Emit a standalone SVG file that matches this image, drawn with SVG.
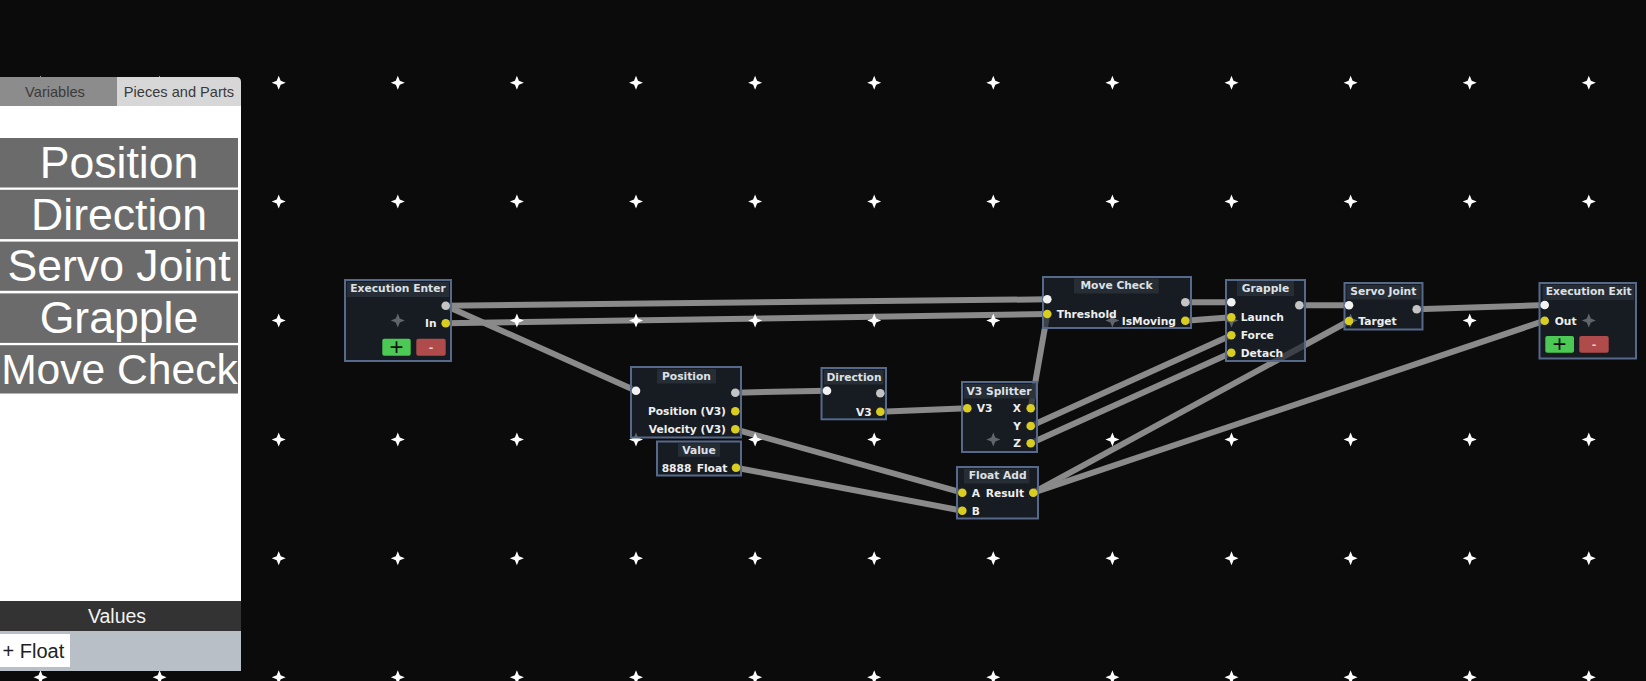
<svg xmlns="http://www.w3.org/2000/svg" xmlns:xlink="http://www.w3.org/1999/xlink" width="1646" height="681" viewBox="0 0 1646 681">
<defs>
<path id="gx" d="M0,-7 L2,-2 L7,0 L2,2 L0,7 L-2,2 L-7,0 L-2,-2 Z"/>
</defs>
<style>
.gx{fill:#ffffff}
.nb{fill:#1c232c;fill-opacity:.7;stroke:#56698a;stroke-width:2}
.tp{fill:#2a3038;fill-opacity:.85}
.tt{font-family:"DejaVu Sans",sans-serif;font-weight:bold;font-size:10.7px;fill:#dde1e6;text-anchor:middle}
.pl{font-family:"DejaVu Sans",sans-serif;font-weight:bold;font-size:10.7px;fill:#eeeeee}
.r{text-anchor:end}
.pw{fill:#f2f2f2}
.pwo{fill:#c4c4c4}
.py{fill:#dacd22}
.wire{stroke:#8a8a8a;stroke-width:6;fill:none;stroke-linecap:butt}
.btg{fill:#4cc955}
.btr{fill:#b04b4b}
.item{fill:#6b6b6b}
.itxt{font-family:"Liberation Sans",Arial,sans-serif;font-size:44.6px;fill:#ffffff;text-anchor:middle}
.tab{font-family:"Liberation Sans",Arial,sans-serif;font-size:14.6px;fill:#3a3a3a;text-anchor:middle}
</style>
<rect x="0" y="0" width="1646" height="681" fill="#0b0b0b"/>

<g id="connectors">
<line class="wire" x1="445.7" y1="305.7" x2="1047.3" y2="299.3"/>
<line class="wire" x1="445.7" y1="305.7" x2="636" y2="390.7"/>
<line class="wire" x1="445.7" y1="323.3" x2="1047.3" y2="314"/>
<line class="wire" x1="735.3" y1="392.7" x2="827" y2="390.7"/>
<line class="wire" x1="880.3" y1="411.7" x2="967.3" y2="408.3"/>
<line class="wire" x1="735.3" y1="429.3" x2="962.3" y2="492.7"/>
<line class="wire" x1="736" y1="467.7" x2="962.3" y2="510.7"/>
<line class="wire" x1="1030.7" y1="408.3" x2="1047.3" y2="314"/>
<line class="wire" x1="1030.7" y1="426" x2="1231.3" y2="335.3"/>
<line class="wire" x1="1030.7" y1="443.3" x2="1231.3" y2="352.7"/>
<line class="wire" x1="1185.3" y1="302.3" x2="1231.3" y2="302.3"/>
<line class="wire" x1="1185.3" y1="320.7" x2="1231.3" y2="317.3"/>
<line class="wire" x1="1299.3" y1="305.3" x2="1349" y2="305.3"/>
<line class="wire" x1="1033.3" y1="492.7" x2="1349" y2="321"/>
<line class="wire" x1="1033.3" y1="492.7" x2="1544.7" y2="320.7"/>
<line class="wire" x1="1416.7" y1="309.3" x2="1544.7" y2="305"/>
</g>

<g id="grid" class="gx">
<use href="#gx" x="40.5" y="82.7"/><use href="#gx" x="159.6" y="82.7"/><use href="#gx" x="278.7" y="82.7"/><use href="#gx" x="397.8" y="82.7"/><use href="#gx" x="516.9" y="82.7"/><use href="#gx" x="636" y="82.7"/><use href="#gx" x="755.1" y="82.7"/><use href="#gx" x="874.2" y="82.7"/><use href="#gx" x="993.3" y="82.7"/><use href="#gx" x="1112.4" y="82.7"/><use href="#gx" x="1231.5" y="82.7"/><use href="#gx" x="1350.6" y="82.7"/><use href="#gx" x="1469.7" y="82.7"/><use href="#gx" x="1588.8" y="82.7"/>
<use href="#gx" x="40.5" y="201.6"/><use href="#gx" x="159.6" y="201.6"/><use href="#gx" x="278.7" y="201.6"/><use href="#gx" x="397.8" y="201.6"/><use href="#gx" x="516.9" y="201.6"/><use href="#gx" x="636" y="201.6"/><use href="#gx" x="755.1" y="201.6"/><use href="#gx" x="874.2" y="201.6"/><use href="#gx" x="993.3" y="201.6"/><use href="#gx" x="1112.4" y="201.6"/><use href="#gx" x="1231.5" y="201.6"/><use href="#gx" x="1350.6" y="201.6"/><use href="#gx" x="1469.7" y="201.6"/><use href="#gx" x="1588.8" y="201.6"/>
<use href="#gx" x="40.5" y="320.5"/><use href="#gx" x="159.6" y="320.5"/><use href="#gx" x="278.7" y="320.5"/><use href="#gx" x="397.8" y="320.5"/><use href="#gx" x="516.9" y="320.5"/><use href="#gx" x="636" y="320.5"/><use href="#gx" x="755.1" y="320.5"/><use href="#gx" x="874.2" y="320.5"/><use href="#gx" x="993.3" y="320.5"/><use href="#gx" x="1112.4" y="320.5"/><use href="#gx" x="1231.5" y="320.5"/><use href="#gx" x="1350.6" y="320.5"/><use href="#gx" x="1469.7" y="320.5"/><use href="#gx" x="1588.8" y="320.5"/>
<use href="#gx" x="40.5" y="439.4"/><use href="#gx" x="159.6" y="439.4"/><use href="#gx" x="278.7" y="439.4"/><use href="#gx" x="397.8" y="439.4"/><use href="#gx" x="516.9" y="439.4"/><use href="#gx" x="636" y="439.4"/><use href="#gx" x="755.1" y="439.4"/><use href="#gx" x="874.2" y="439.4"/><use href="#gx" x="993.3" y="439.4"/><use href="#gx" x="1112.4" y="439.4"/><use href="#gx" x="1231.5" y="439.4"/><use href="#gx" x="1350.6" y="439.4"/><use href="#gx" x="1469.7" y="439.4"/><use href="#gx" x="1588.8" y="439.4"/>
<use href="#gx" x="40.5" y="558.3"/><use href="#gx" x="159.6" y="558.3"/><use href="#gx" x="278.7" y="558.3"/><use href="#gx" x="397.8" y="558.3"/><use href="#gx" x="516.9" y="558.3"/><use href="#gx" x="636" y="558.3"/><use href="#gx" x="755.1" y="558.3"/><use href="#gx" x="874.2" y="558.3"/><use href="#gx" x="993.3" y="558.3"/><use href="#gx" x="1112.4" y="558.3"/><use href="#gx" x="1231.5" y="558.3"/><use href="#gx" x="1350.6" y="558.3"/><use href="#gx" x="1469.7" y="558.3"/><use href="#gx" x="1588.8" y="558.3"/>
<use href="#gx" x="40.5" y="677.2"/><use href="#gx" x="159.6" y="677.2"/><use href="#gx" x="278.7" y="677.2"/><use href="#gx" x="397.8" y="677.2"/><use href="#gx" x="516.9" y="677.2"/><use href="#gx" x="636" y="677.2"/><use href="#gx" x="755.1" y="677.2"/><use href="#gx" x="874.2" y="677.2"/><use href="#gx" x="993.3" y="677.2"/><use href="#gx" x="1112.4" y="677.2"/><use href="#gx" x="1231.5" y="677.2"/><use href="#gx" x="1350.6" y="677.2"/><use href="#gx" x="1469.7" y="677.2"/><use href="#gx" x="1588.8" y="677.2"/>
</g>

<g id="execution-enter">
<rect class="nb" x="345" y="280" width="106" height="81"/>
<rect class="tp" x="347" y="282" width="102" height="15"/>
<text class="tt" x="398" y="292">Execution Enter</text>
<circle class="pwo" cx="445.7" cy="305.7" r="4.3"/>
<circle class="py" cx="445.7" cy="323.3" r="4.3"/>
<text class="pl r" x="436.5" y="327.3">In</text>
<rect class="btg" x="382.3" y="338.7" width="28.4" height="17" rx="2"/>
<text x="396.5" y="355.2" font-family="Liberation Sans, Arial, sans-serif" font-size="24" fill="#111" text-anchor="middle">+</text>
<rect class="btr" x="416.3" y="338.7" width="29.4" height="17" rx="2"/>
<text x="431" y="350.8" font-family="DejaVu Sans, sans-serif" font-weight="bold" font-size="11" fill="#ecd0d0" text-anchor="middle">-</text>
</g>

<g id="position">
<rect class="nb" x="631" y="367" width="110" height="70.5"/>
<rect class="tp" x="657" y="369" width="59" height="14.5"/>
<text class="tt" x="686.5" y="380">Position</text>
<circle class="pw" cx="636" cy="390.7" r="4.3"/>
<circle class="pwo" cx="735.3" cy="392.7" r="4.3"/>
<circle class="py" cx="735.3" cy="411.3" r="4.3"/>
<circle class="py" cx="735.3" cy="429.3" r="4.3"/>
<text class="pl r" x="726" y="415.3">Position (V3)</text>
<text class="pl r" x="726" y="433.3">Velocity (V3)</text>
</g>

<g id="value">
<rect class="nb" x="657" y="441.5" width="84" height="34"/>
<rect class="tp" x="678" y="443.3" width="42" height="13.5"/>
<text class="tt" x="699" y="454">Value</text>
<text class="pl" x="661.7" y="471.7">8888</text>
<text class="pl r" x="727.3" y="471.7">Float</text>
<circle class="py" cx="736" cy="467.7" r="4.3"/>
</g>

<g id="direction">
<rect class="nb" x="821.5" y="368" width="64.5" height="51.3"/>
<rect class="tp" x="824" y="370" width="59.5" height="14.5"/>
<text class="tt" x="854" y="380.5">Direction</text>
<circle class="pw" cx="827" cy="390.7" r="4.3"/>
<circle class="pwo" cx="880.3" cy="393.3" r="4.3"/>
<circle class="py" cx="880.3" cy="411.7" r="4.3"/>
<text class="pl r" x="871.7" y="415.7">V3</text>
</g>

<g id="v3-splitter">
<rect class="nb" x="962" y="382" width="75" height="70"/>
<rect class="tp" x="964" y="384" width="71" height="14.5"/>
<text class="tt" x="999" y="394.5">V3 Splitter</text>
<circle class="py" cx="967.3" cy="408.3" r="4.3"/>
<text class="pl" x="976.7" y="412.3">V3</text>
<circle class="py" cx="1030.7" cy="408.3" r="4.3"/>
<circle class="py" cx="1030.7" cy="426" r="4.3"/>
<circle class="py" cx="1030.7" cy="443.3" r="4.3"/>
<text class="pl r" x="1021" y="412.3">X</text>
<text class="pl r" x="1021" y="430">Y</text>
<text class="pl r" x="1021" y="447.3">Z</text>
</g>

<g id="float-add">
<rect class="nb" x="957" y="467" width="81" height="51.5"/>
<rect class="tp" x="964" y="469" width="65.5" height="14.5"/>
<text class="tt" x="997.7" y="479.3">Float Add</text>
<circle class="py" cx="962.3" cy="492.7" r="4.3"/>
<circle class="py" cx="962.3" cy="510.7" r="4.3"/>
<circle class="py" cx="1033.3" cy="492.7" r="4.3"/>
<text class="pl" x="971.7" y="496.7">A</text>
<text class="pl r" x="1024" y="496.7">Result</text>
<text class="pl" x="971.7" y="514.7">B</text>
</g>

<g id="move-check">
<rect class="nb" x="1043" y="277" width="148" height="51"/>
<rect class="tp" x="1074" y="278.5" width="84.7" height="15"/>
<text class="tt" x="1116.5" y="288.8">Move Check</text>
<circle class="pw" cx="1047.3" cy="299.3" r="4.3"/>
<circle class="py" cx="1047.3" cy="314" r="4.3"/>
<circle class="pwo" cx="1185.3" cy="302.3" r="4.3"/>
<circle class="py" cx="1185.3" cy="320.7" r="4.3"/>
<text class="pl" x="1056.7" y="318">Threshold</text>
<text class="pl r" x="1176" y="324.7">IsMoving</text>
</g>

<g id="grapple">
<rect class="nb" x="1226" y="280" width="79" height="81"/>
<rect class="tp" x="1237" y="281" width="57" height="15"/>
<text class="tt" x="1265.5" y="292">Grapple</text>
<circle class="pw" cx="1231.3" cy="302.3" r="4.3"/>
<circle class="pwo" cx="1299.3" cy="305.3" r="4.3"/>
<circle class="py" cx="1231.3" cy="317.3" r="4.3"/>
<circle class="py" cx="1231.3" cy="335.3" r="4.3"/>
<circle class="py" cx="1231.3" cy="352.7" r="4.3"/>
<text class="pl" x="1240.7" y="321.3">Launch</text>
<text class="pl" x="1240.7" y="339.3">Force</text>
<text class="pl" x="1240.7" y="356.7">Detach</text>
</g>

<g id="servo-joint">
<rect class="nb" x="1344.5" y="283" width="78" height="46.5"/>
<rect class="tp" x="1346.5" y="285" width="74" height="14.5"/>
<text class="tt" x="1383.3" y="295.2">Servo Joint</text>
<circle class="pw" cx="1349" cy="305.3" r="4.3"/>
<circle class="pwo" cx="1416.7" cy="309.3" r="4.3"/>
<circle class="py" cx="1349" cy="321" r="4.3"/>
<text class="pl" x="1358.3" y="325">Target</text>
</g>

<g id="execution-exit">
<rect class="nb" x="1539.5" y="283" width="96.5" height="75.5"/>
<rect class="tp" x="1542.7" y="284.7" width="91.5" height="15.3"/>
<text class="tt" x="1588.7" y="295.3">Execution Exit</text>
<circle class="pw" cx="1544.7" cy="305" r="4.3"/>
<circle class="py" cx="1544.7" cy="320.7" r="4.3"/>
<text class="pl" x="1554.7" y="324.7">Out</text>
<rect class="btg" x="1545.3" y="336" width="28.7" height="16.7" rx="2"/>
<text x="1559.6" y="352.4" font-family="Liberation Sans, Arial, sans-serif" font-size="24" fill="#111" text-anchor="middle">+</text>
<rect class="btr" x="1579.3" y="336" width="29.4" height="16.7" rx="2"/>
<text x="1594" y="348" font-family="DejaVu Sans, sans-serif" font-weight="bold" font-size="11" fill="#ecd0d0" text-anchor="middle">-</text>
</g>

<g id="panel">
<rect x="0" y="106" width="241" height="495" fill="#ffffff"/>
<rect x="0" y="77" width="117" height="29" fill="#8c8c8c"/>
<path d="M117,77 H236 Q241,77 241,82 V106 H117 Z" fill="#d7d7d7"/>
<text class="tab" x="55" y="96.8">Variables</text>
<text class="tab" x="179" y="96.8">Pieces and Parts</text>
<rect class="item" x="0" y="138" width="238" height="49.5"/>
<rect class="item" x="0" y="189.8" width="238" height="49.3"/>
<rect class="item" x="0" y="241.6" width="238" height="49.2"/>
<rect class="item" x="0" y="293.4" width="238" height="49.5"/>
<rect class="item" x="0" y="345.2" width="238" height="48.3"/>
<text class="itxt" x="119" y="178.3">Position</text>
<text class="itxt" x="119" y="230">Direction</text>
<text class="itxt" x="119" y="280.8">Servo Joint</text>
<text class="itxt" x="119" y="332.7">Grapple</text>
<text class="itxt" x="119.5" y="384.2" style="font-size:42.6px">Move Check</text>
<rect x="0" y="601" width="241" height="30" fill="#333333"/>
<text x="117" y="623.3" font-family="Liberation Sans, Arial, sans-serif" font-size="19.5" fill="#f2f2f2" text-anchor="middle">Values</text>
<rect x="0" y="631" width="241" height="40" fill="#b9bfc7"/>
<rect x="0" y="634" width="70" height="33" fill="#ffffff"/>
<text x="2.5" y="657.7" font-family="Liberation Sans, Arial, sans-serif" font-size="20" fill="#222222">+ Float</text>
</g>
</svg>
